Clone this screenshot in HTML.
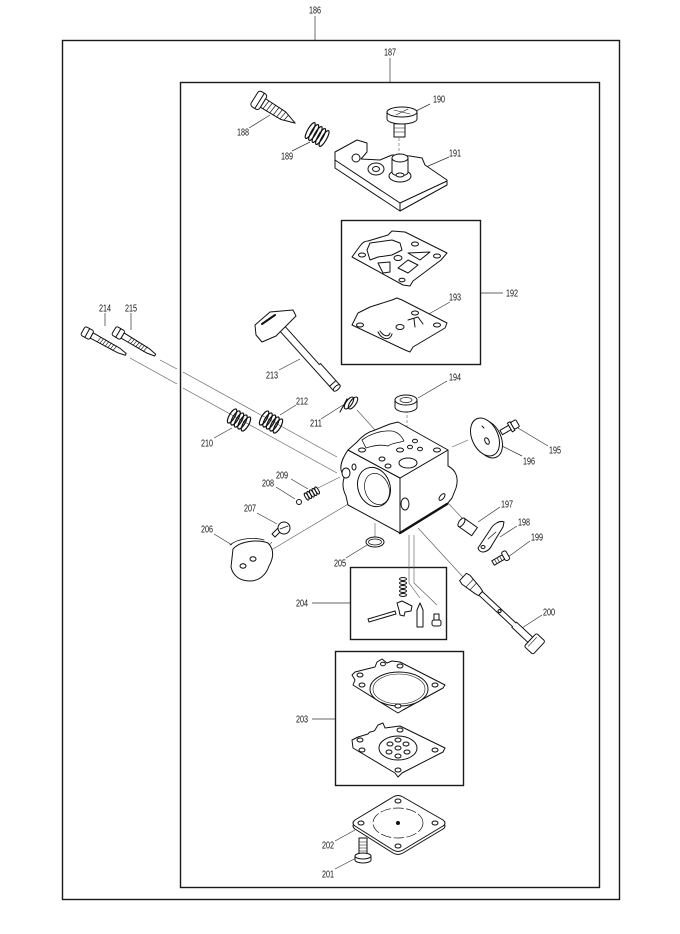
<!DOCTYPE html>
<html><head><meta charset="utf-8"><style>
html,body{margin:0;padding:0;background:#fff}
svg{display:block}
text{font-family:"Liberation Sans Narrow","Liberation Sans",sans-serif;font-size:10px;fill:#111}
</style></head><body>
<svg width="680" height="934" viewBox="0 0 680 934" xmlns="http://www.w3.org/2000/svg">
<rect width="680" height="934" fill="#fff"/>

<!-- frames -->
<g fill="none" stroke="#1a1a1a" stroke-width="1.4">
 <rect x="62.5" y="40.5" width="557" height="859"/>
 <rect x="180.5" y="82.5" width="419" height="805"/>
 <rect x="341.5" y="220.5" width="139" height="144"/>
 <rect x="350.5" y="567.5" width="96" height="72"/>
 <rect x="335.5" y="651.5" width="128" height="134"/>
</g>

<!-- leader lines -->
<g stroke="#333" stroke-width="0.7" fill="none">
 <path d="M315,16V40M390,58V82"/>
 <path d="M249,128L270,115M292,151L310,142M430,104L414,112M449,157L426,167"/>
 <path d="M481,293H503M450,302L427,315M447,381L418,398M548,446L518,428M522,456L500,445"/>
 <path d="M500,507L478,522M517,526L500,537M530,541L508,557M542,615L522,628"/>
 <path d="M335,869L358,857M335,841L355,830M312,719H335M312,603H350M346,558L367,545"/>
 <path d="M214,534L232,545M257,513L277,524M276,487L295,499M291,479L308,489"/>
 <path d="M214,438L232,428M321,419L343,405M296,405L280,415M279,370L300,359"/>
 <path d="M105,313V326M131,313V330"/>
</g>

<!-- thin connection lines -->
<g stroke="#555" stroke-width="0.6" fill="none">
 <path d="M130,358L177,384M183,388L337,473"/>
 <path d="M160,360L177,369M183,372L337,457"/>
 <path d="M357,410L375,430"/>
 <path d="M318,488L340,477"/>
 <path d="M272,542L258,557M268,552L350,503"/>
 <path d="M375,523V537"/>
 <path d="M407,410V465" stroke-dasharray="3,2"/>
 <path d="M399,138V180" stroke-dasharray="3,2"/>
 <path d="M452,447L468,440"/>
 <path d="M448,503L462,518"/>
 <path d="M418,528L463,577"/>
 <path d="M409,535V583L420,598M414,535V583L437,605"/>
</g>

<g fill="#fff" stroke="#111" stroke-width="1" stroke-linejoin="round" stroke-linecap="round">

<!-- 188 screw -->
<g transform="translate(263,103) rotate(32)">
 <path d="M0,-5 L24,-4.5 L38,0 L24,4.5 L0,5 Z"/>
 <path d="M4,-5L3,5M8,-5L7,5M12,-5L11,5M16,-5L15,5M20,-5L19,5M24,-4L23,4M28,-3L27,3" fill="none" stroke-width="0.7"/>
 <rect x="-10" y="-9" width="10" height="18" rx="3"/>
 <path d="M-4,-9V9" fill="none"/>
</g>

<!-- 189 spring -->
<g transform="translate(318,135) rotate(30)" fill="none" stroke-width="1.2">
 <ellipse cx="-9" cy="0" rx="2.5" ry="9"/>
 <ellipse cx="-5" cy="0" rx="2.5" ry="9"/>
 <ellipse cx="-1" cy="0" rx="2.5" ry="9"/>
 <ellipse cx="3" cy="0" rx="2.5" ry="9"/>
 <ellipse cx="7" cy="0" rx="2.5" ry="9"/>
</g>

<!-- 190 screw -->
<path d="M394,120 H405 V137 H394 Z"/>
<path d="M394,124H405M394,128H405M394,132H405" fill="none" stroke-width="0.6"/>
<path d="M387,112 V119 A15,5 0 0 0 417,119 V112"/>
<ellipse cx="402" cy="112" rx="15" ry="5"/>
<path d="M394,110L410,114M396,115L408,109" fill="none" stroke-width="0.6"/>

<!-- 191 plate -->
<path d="M335,152 L357,140 L367,143 L367,152 L361,159 L380,160 L392,155 L410,156 L422,158 L425,165 L447,180 L447,185 L400,211 L335,168 Z"/>
<path d="M335,160 L400,203 L447,181 M400,203 V211" fill="none"/>
<ellipse cx="356" cy="158" rx="4" ry="4"/>
<ellipse cx="376" cy="169" rx="8" ry="6"/>
<ellipse cx="376" cy="169" rx="3.5" ry="2.5"/>
<ellipse cx="400" cy="176" rx="11" ry="6"/>
<path d="M392,158 V172 A8,4 0 0 0 408,172 V158"/>
<ellipse cx="400" cy="158" rx="8" ry="4"/>
<ellipse cx="400" cy="175" rx="4" ry="2"/>

<!-- 192 gasket A -->
<path d="M352,257 L360,246 C362,243 365,241 368,241 L388,235 L392,231 L405,232 L447,253 L441,260 L413,281 L410,286 L403,285 Z"/>
<path d="M367,250 L370,243 L392,240 L400,243 L402,250 L392,255 L378,257 L370,260 Z"/>
<path d="M408,253 L430,252 L420,260 Z"/>
<path d="M378,263 L390,262 L390,272 L383,273 Z"/>
<path d="M398,268 L408,260 L418,265 L408,273 Z"/>
<ellipse cx="362" cy="255" rx="3.5" ry="2"/>
<ellipse cx="415" cy="244" rx="3.5" ry="2"/>
<ellipse cx="437" cy="256" rx="3.5" ry="2"/>
<ellipse cx="398" cy="258" rx="4" ry="2.5"/>
<ellipse cx="402" cy="280" rx="3" ry="1.8"/>

<!-- 193 gasket B -->
<path d="M352,325 L358,313 L370,307 L392,300 L397,298 L402,300 L447,323 L445,328 L413,347 L410,352 L405,350 Z"/>
<ellipse cx="360" cy="325" rx="3.5" ry="2"/>
<ellipse cx="415" cy="313" rx="3.5" ry="2"/>
<ellipse cx="437" cy="325" rx="3.5" ry="2"/>
<ellipse cx="400" cy="327" rx="4" ry="2.5"/>
<path d="M378,332 C382,340 390,341 392,334 M380,331 C384,337 389,337 390,333" fill="none"/>
<path d="M408,320 L418,317 L423,324 M414,319 L415,327" fill="none"/>

<!-- 213 choke shaft -->
<g transform="translate(280,326) rotate(48)">
 <path d="M0,-3.5 H55 V-5 H84 V3.5 H0 Z"/>
 <ellipse cx="84" cy="-0.7" rx="2" ry="4.3"/>
 <path d="M78,-5V3.5" fill="none"/>
</g>
<path d="M255,325 L270,312 L293,310 L296,316 L276,336 L262,342 L256,335 Z"/>
<path d="M262,324 L275,315" fill="none" stroke-width="2"/>

<!-- 211 spring -->
<g fill="none" stroke-width="1.1">
 <ellipse cx="349" cy="403" rx="3" ry="7" transform="rotate(35 349 403)"/>
 <ellipse cx="353" cy="403" rx="3" ry="7" transform="rotate(35 353 403)"/>
 <path d="M340,412 L347,399"/>
</g>

<!-- 214 / 215 screws -->
<g transform="translate(89,334) rotate(29)">
 <path d="M3,-3 L34,-2.5 L42,-1 L42,1 L34,2.5 L3,3 Z"/>
 <path d="M12,-3L11,3M15,-3L14,3M18,-3L17,3M21,-3L20,3M24,-3L23,3M27,-3L26,3M30,-3L29,3" fill="none" stroke-width="0.6"/>
 <rect x="-7" y="-5" width="10" height="10" rx="2"/>
 <path d="M-2,-5V5" fill="none"/>
</g>
<g transform="translate(120,334) rotate(31)">
 <path d="M3,-3 L33,-2.5 L41,-1 L41,1 L33,2.5 L3,3 Z"/>
 <path d="M12,-3L11,3M15,-3L14,3M18,-3L17,3M21,-3L20,3M24,-3L23,3M27,-3L26,3M30,-3L29,3" fill="none" stroke-width="0.6"/>
 <rect x="-7" y="-5" width="10" height="10" rx="2"/>
 <path d="M-2,-5V5" fill="none"/>
</g>

<!-- 210 / 212 springs -->
<g transform="translate(239,420) rotate(30)" fill="none" stroke-width="1.2">
 <ellipse cx="-8" cy="0" rx="2.8" ry="8"/>
 <ellipse cx="-4" cy="0" rx="2.8" ry="8"/>
 <ellipse cx="0" cy="0" rx="2.8" ry="8"/>
 <ellipse cx="4" cy="0" rx="2.8" ry="8"/>
 <ellipse cx="8" cy="0" rx="2.8" ry="8"/>
</g>
<g transform="translate(271,422) rotate(30)" fill="none" stroke-width="1.2">
 <ellipse cx="-8" cy="0" rx="2.8" ry="8"/>
 <ellipse cx="-4" cy="0" rx="2.8" ry="8"/>
 <ellipse cx="0" cy="0" rx="2.8" ry="8"/>
 <ellipse cx="4" cy="0" rx="2.8" ry="8"/>
 <ellipse cx="8" cy="0" rx="2.8" ry="8"/>
</g>

<!-- carburetor body -->
<path d="M348,450 L400,478 L400,533 L348,505 L346,496 C343,490 342,484 344,478 L341,470 C340,463 344,456 348,450 Z"/>
<path d="M400,478 L448,450 L448,466 C456,470 459,478 456,488 L452,498 L447,504 L400,533 Z"/>
<path d="M348,450 L357,442 C362,436 368,432 375,430 L390,424 L398,422 L407,427 L448,450 L400,478 Z"/>
<path d="M400,533 L447,504" stroke-width="2.4" fill="none"/>
<path d="M362,440 C370,434 382,430 392,431 C398,432 402,437 404,441 C398,443 392,443 388,446 C380,444 372,446 366,448 Z" fill="none" stroke-width="0.8"/>
<ellipse cx="374" cy="487" rx="16" ry="20" transform="rotate(-20 374 487)"/>
<ellipse cx="377" cy="489" rx="12" ry="16" transform="rotate(-20 377 489)" fill="none" stroke-width="0.7"/>
<ellipse cx="346" cy="473" rx="4" ry="5"/>
<ellipse cx="354" cy="467" rx="2" ry="3"/>
<ellipse cx="362" cy="450" rx="3.5" ry="2"/>
<ellipse cx="382" cy="459" rx="3" ry="2"/>
<ellipse cx="388" cy="466" rx="3" ry="2"/>
<ellipse cx="400" cy="450" rx="3.5" ry="2"/>
<ellipse cx="410" cy="447" rx="2.5" ry="1.8"/>
<ellipse cx="420" cy="449" rx="2.5" ry="1.8"/>
<ellipse cx="415" cy="441" rx="2.5" ry="1.8"/>
<ellipse cx="437" cy="450" rx="3.5" ry="2"/>
<ellipse cx="408" cy="463" rx="9" ry="5"/>
<ellipse cx="405" cy="504" rx="4" ry="6"/>
<ellipse cx="442" cy="497" rx="2" ry="4" transform="rotate(40 442 497)"/>

<!-- 194 cap -->
<path d="M395,400 V407 A11,5 0 0 0 417,407 V400"/>
<ellipse cx="406" cy="400" rx="11" ry="5"/>
<ellipse cx="406" cy="400" rx="6" ry="2.5" fill="none" stroke-width="0.7"/>

<!-- 196 plate -->
<ellipse cx="488" cy="439" rx="13" ry="20" transform="rotate(-25 488 439)"/>
<ellipse cx="485" cy="437" rx="13" ry="20" transform="rotate(-25 485 437)"/>
<ellipse cx="487" cy="441" rx="2" ry="3.5" transform="rotate(-25 487 441)"/>
<path d="M482,426 L484,428" fill="none"/>

<!-- 195 screw -->
<g transform="translate(509,428) rotate(-30)">
 <rect x="-9" y="-2.5" width="10" height="5"/>
 <rect x="1" y="-5" width="3" height="10"/>
 <rect x="4" y="-4" width="6" height="8" rx="1.5"/>
</g>

<!-- 197 sleeve -->
<g transform="translate(468,527) rotate(35)">
 <rect x="-8" y="-5" width="16" height="10"/>
 <ellipse cx="-8" cy="0" rx="2.5" ry="5"/>
</g>

<!-- 198 lever -->
<path d="M478,548 L490,530 C493,524 500,520 504,522 L503,527 L492,545 C489,552 480,555 478,548 Z"/>
<path d="M488,539 L496,532" fill="none" stroke-width="0.7"/>
<ellipse cx="483" cy="547" rx="2" ry="1.5"/>

<!-- 199 screw -->
<g transform="translate(500,559) rotate(-30)">
 <rect x="-8" y="-2.5" width="12" height="5"/>
 <path d="M-5,-2.5V2.5M-2,-2.5V2.5M1,-2.5V2.5" fill="none" stroke-width="0.6"/>
 <rect x="4" y="-5" width="5" height="10" rx="2"/>
</g>

<!-- 200 shaft -->
<g transform="translate(463,577) rotate(43)">
 <path d="M24,-2.5 H70 V-3.5 H92 V3.5 H70 V2.5 H24 Z"/>
 <path d="M0,-5 L4,-6 L20,-4 L24,-3 L24,3 L20,4 L4,6 L0,5 Z"/>
 <path d="M9,-5.5V5.5M14,-5V5" fill="none" stroke-width="0.6"/>
 <ellipse cx="50" cy="0" rx="1.5" ry="1.5"/>
 <rect x="92" y="-9" width="12" height="18" rx="2"/>
 <path d="M95,-6 V6" fill="none" stroke-width="0.6"/>
</g>

<!-- 206 plate -->
<path d="M233,549 C240,541 258,539 268,543 C275,550 273,559 269,566 C266,575 259,581 250,581 C240,581 233,576 231,567 Z"/>
<path d="M230,545 C238,538 255,537 264,540" fill="none" stroke-width="0.8"/>
<ellipse cx="253" cy="559" rx="3" ry="2.2"/>
<ellipse cx="243" cy="566" rx="3" ry="2.2"/>

<!-- 207 screw -->
<path d="M272,534 L278,528 L281,531 L275,537 Z"/>
<ellipse cx="284" cy="528" rx="6" ry="6"/>
<path d="M280,529 L288,526" fill="none" stroke-width="0.7"/>

<!-- 208 ball, 209 spring -->
<circle cx="299" cy="502" r="2.5"/>
<g transform="translate(311,494) rotate(-30)" fill="none" stroke-width="1">
 <ellipse cx="-5" cy="0" rx="1.5" ry="4"/>
 <ellipse cx="-2" cy="0" rx="1.5" ry="4"/>
 <ellipse cx="1" cy="0" rx="1.5" ry="4"/>
 <ellipse cx="4" cy="0" rx="1.5" ry="4"/>
 <ellipse cx="7" cy="0" rx="1.5" ry="4"/>
</g>

<!-- 205 O-ring -->
<ellipse cx="375" cy="542" rx="9" ry="5"/>
<ellipse cx="375" cy="542" rx="6.5" ry="3" fill="none" stroke-width="0.7"/>

<!-- 204 contents -->
<g fill="none" stroke-width="1">
 <ellipse cx="403" cy="579" rx="3.5" ry="1.5"/>
 <ellipse cx="403" cy="583" rx="3.5" ry="1.5"/>
 <ellipse cx="403" cy="587" rx="3.5" ry="1.5"/>
 <ellipse cx="403" cy="591" rx="3.5" ry="1.5"/>
 <ellipse cx="403" cy="595" rx="3.5" ry="1.5"/>
</g>
<path d="M368,619 L395,611 L396,614 L369,622 Z"/>
<path d="M397,603 L402,601 L412,606 L411,611 L405,612 L404,616 L400,615 L399,610 Z"/>
<path d="M417,610 L420,603 L423,610 L423,627 L417,627 Z"/>
<rect x="434" y="614" width="5" height="6"/>
<rect x="432" y="620" width="9" height="6" rx="2"/>

<!-- 203 gasket C -->
<path d="M352,675 L355,672 L375,667 L377,662 L382,659 L387,663 L392,661 L400,662 L445,685 L443,688 L403,710 L398,713 L393,710 L353,685 L355,680 Z"/>
<ellipse cx="399" cy="689" rx="29" ry="17"/>
<ellipse cx="399" cy="689" rx="26" ry="15" fill="none" stroke-width="0.6"/>
<ellipse cx="360" cy="675" rx="3" ry="2"/>
<ellipse cx="362" cy="685" rx="3" ry="2"/>
<ellipse cx="383" cy="664" rx="2.5" ry="1.8"/>
<ellipse cx="400" cy="666" rx="3" ry="2"/>
<ellipse cx="435" cy="685" rx="3" ry="2"/>
<ellipse cx="398" cy="706" rx="3" ry="2"/>

<!-- 203 gasket D -->
<path d="M352,740 L358,737 L368,734 C370,730 373,733 375,730 L378,725 L383,723 L385,728 L400,726 L445,748 L443,752 L402,773 L398,777 L395,773 L353,748 Z"/>
<ellipse cx="398" cy="748" rx="19" ry="12"/>
<ellipse cx="360" cy="740" rx="3" ry="2"/>
<ellipse cx="362" cy="750" rx="3" ry="2"/>
<ellipse cx="400" cy="730" rx="3" ry="2"/>
<ellipse cx="435" cy="750" rx="3" ry="2"/>
<ellipse cx="398" cy="770" rx="3" ry="2"/>
<ellipse cx="398" cy="748" rx="3" ry="2"/>
<ellipse cx="390" cy="744" rx="3" ry="2"/>
<ellipse cx="406" cy="744" rx="3" ry="2"/>
<ellipse cx="389" cy="752" rx="3" ry="2"/>
<ellipse cx="407" cy="752" rx="3" ry="2"/>
<ellipse cx="398" cy="756" rx="3" ry="2"/>
<ellipse cx="398" cy="740" rx="3" ry="2"/>

<!-- 202 cover -->
<path d="M355,823 L393,800 Q398,797 403,800 L443,823 Q447,826 443,829 L403,853 Q398,856 393,853 L355,829 Q351,826 355,823 Z"/>
<path d="M355,820 L393,797 Q398,794 403,797 L443,820 Q447,823 443,826 L403,850 Q398,853 393,850 L355,826 Q351,823 355,820 Z"/>
<ellipse cx="398" cy="823" rx="25" ry="15" fill="none" stroke-width="0.7" stroke-dasharray="10,3"/>
<circle cx="398" cy="823" r="1.5" fill="#111"/>
<ellipse cx="361" cy="823" rx="3" ry="2"/>
<ellipse cx="398" cy="801" rx="3" ry="2"/>
<ellipse cx="435" cy="823" rx="3" ry="2"/>
<ellipse cx="398" cy="846" rx="3" ry="2"/>

<!-- 201 screw -->
<rect x="359" y="838" width="8" height="16"/>
<path d="M359,842H367M359,845H367M359,848H367M359,851H367" fill="none" stroke-width="0.6"/>
<path d="M355,856 V860 A8,3 0 0 0 371,860 V856"/>
<ellipse cx="363" cy="856" rx="8" ry="3"/>
</g>

<!-- labels -->
<g text-anchor="middle">
 <text x="315" y="13.5" textLength="12" lengthAdjust="spacingAndGlyphs">186</text>
 <text x="390" y="55.5" textLength="12" lengthAdjust="spacingAndGlyphs">187</text>
 <text x="243" y="135.5" textLength="12" lengthAdjust="spacingAndGlyphs">188</text>
 <text x="287" y="159.5" textLength="12" lengthAdjust="spacingAndGlyphs">189</text>
 <text x="439" y="102.5" textLength="12" lengthAdjust="spacingAndGlyphs">190</text>
 <text x="455" y="156.5" textLength="12" lengthAdjust="spacingAndGlyphs">191</text>
 <text x="512" y="296.5" textLength="12" lengthAdjust="spacingAndGlyphs">192</text>
 <text x="455" y="300.5" textLength="12" lengthAdjust="spacingAndGlyphs">193</text>
 <text x="455" y="380.5" textLength="12" lengthAdjust="spacingAndGlyphs">194</text>
 <text x="555" y="453.5" textLength="12" lengthAdjust="spacingAndGlyphs">195</text>
 <text x="529" y="464.5" textLength="12" lengthAdjust="spacingAndGlyphs">196</text>
 <text x="507" y="507.5" textLength="12" lengthAdjust="spacingAndGlyphs">197</text>
 <text x="524" y="525.5" textLength="12" lengthAdjust="spacingAndGlyphs">198</text>
 <text x="537" y="540.5" textLength="12" lengthAdjust="spacingAndGlyphs">199</text>
 <text x="549" y="615.5" textLength="12" lengthAdjust="spacingAndGlyphs">200</text>
 <text x="328" y="877.5" textLength="12" lengthAdjust="spacingAndGlyphs">201</text>
 <text x="328" y="848.5" textLength="12" lengthAdjust="spacingAndGlyphs">202</text>
 <text x="302" y="722.5" textLength="12" lengthAdjust="spacingAndGlyphs">203</text>
 <text x="302" y="606.5" textLength="12" lengthAdjust="spacingAndGlyphs">204</text>
 <text x="340" y="566.5" textLength="12" lengthAdjust="spacingAndGlyphs">205</text>
 <text x="207" y="532.5" textLength="12" lengthAdjust="spacingAndGlyphs">206</text>
 <text x="250" y="511.5" textLength="12" lengthAdjust="spacingAndGlyphs">207</text>
 <text x="268" y="486.5" textLength="12" lengthAdjust="spacingAndGlyphs">208</text>
 <text x="282" y="478.5" textLength="12" lengthAdjust="spacingAndGlyphs">209</text>
 <text x="207" y="446.5" textLength="12" lengthAdjust="spacingAndGlyphs">210</text>
 <text x="316" y="426.5" textLength="12" lengthAdjust="spacingAndGlyphs">211</text>
 <text x="302" y="404.5" textLength="12" lengthAdjust="spacingAndGlyphs">212</text>
 <text x="272" y="378.5" textLength="12" lengthAdjust="spacingAndGlyphs">213</text>
 <text x="105" y="311.5" textLength="12" lengthAdjust="spacingAndGlyphs">214</text>
 <text x="131" y="311.5" textLength="12" lengthAdjust="spacingAndGlyphs">215</text>
</g>
</svg>
</body></html>
